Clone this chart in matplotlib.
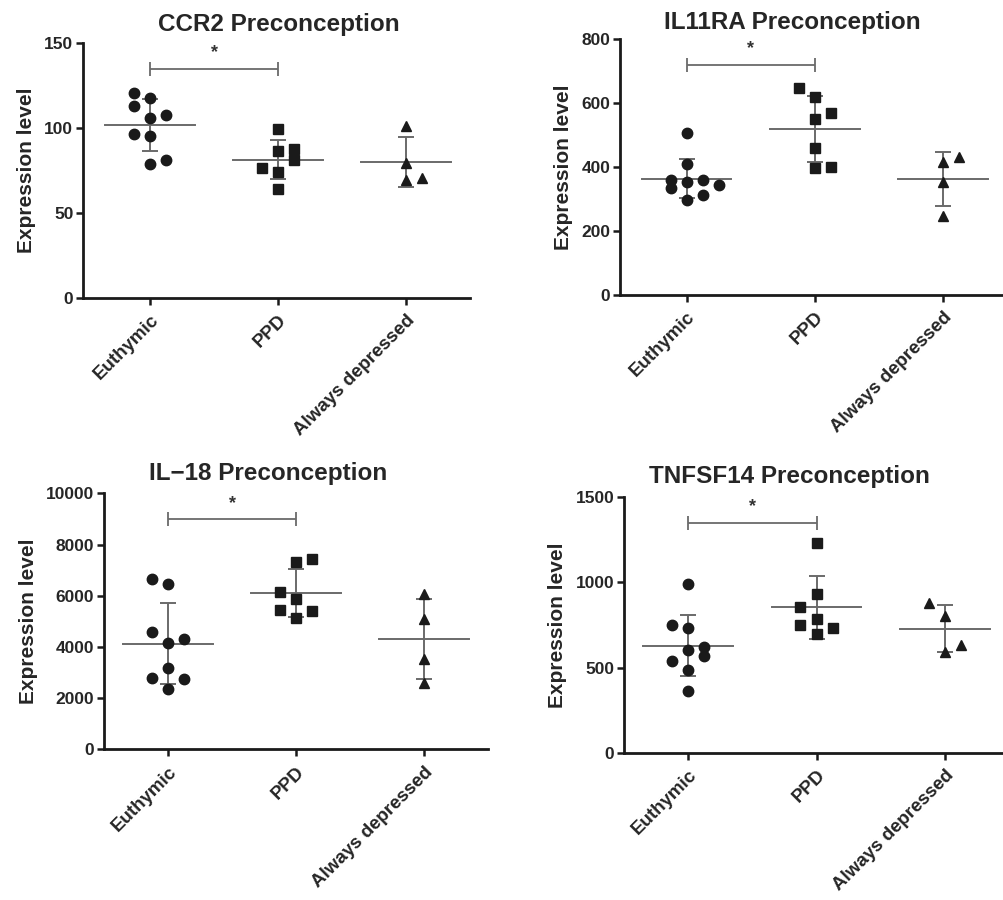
import numpy as np
import matplotlib
matplotlib.use("Agg")
import matplotlib.pyplot as plt

plt.rcParams['font.family'] = ['Liberation Sans', 'DejaVu Sans']
plt.rcParams['font.weight'] = 'bold'

groups = ["Euthymic", "PPD", "Always depressed"]
titles = ["CCR2 Preconception", "IL11RA Preconception",
          "IL\u221218 Preconception", "TNFSF14 Preconception"]

# values
ccr2_euthymic = [120.6, 117.6, 112.7, 106.0, 107.5, 96.3, 95.1, 78.6, 81.0]
ccr2_ppd = [99.6, 86.5, 87.8, 81.0, 76.5, 74.1, 64.3]
ccr2_always = [101.0, 79.4, 69.2, 70.8]

il11ra_euthymic = [505.9, 409.9, 359.8, 333.8, 354.6, 359.8, 344.2, 297.3, 312.9]
il11ra_ppd = [646.7, 618.5, 570.5, 549.7, 458.9, 396.3, 399.5]
il11ra_always = [415.0, 432.9, 354.6, 247.2]

il18_euthymic = [6640, 6458, 4596, 4167, 4310, 3164, 2773, 2734, 2357]
il18_ppd = [7331, 7422, 6133, 5872, 5443, 5417, 5117]
il18_always = [6068, 5078, 3516, 2578]

tnfsf14_euthymic = [988.9, 750.0, 730.4, 603.1, 618.8, 567.9, 538.5, 485.6, 362.3]
tnfsf14_ppd = [1233.7, 932.1, 853.8, 785.2, 750.0, 730.4, 697.1]
tnfsf14_always = [881.2, 804.8, 632.5, 593.3]

# scatter column slots (jitter) per point
ccr2_slots = [[-1, 0, -1, 0, 1, -1, 0, 0, 1], [0, 0, 1, 1, -1, 0, 0], [0, 0, 0, 1]]
il11ra_slots = [[0, 0, -1, -1, 0, 1, 2, 0, 1], [-1, 0, 1, 0, 0, 0, 1], [0, 1, 0, 0]]
il18_slots = [[-1, 0, -1, 0, 1, 0, -1, 1, 0], [0, 1, -1, 0, -1, 1, 0], [0, 0, 0, 0]]
tnfsf14_slots = [[0, -1, 0, 0, 1, 1, -1, 0, 0], [0, 0, -1, 0, -1, 1, 0], [-1, 0, 1, 0]]

yticks_list = [[0, 50, 100, 150], [0, 200, 400, 600, 800],
               [0, 2000, 4000, 6000, 8000, 10000], [0, 500, 1000, 1500]]

panels_data = [
    [ccr2_euthymic, ccr2_ppd, ccr2_always],
    [il11ra_euthymic, il11ra_ppd, il11ra_always],
    [il18_euthymic, il18_ppd, il18_always],
    [tnfsf14_euthymic, tnfsf14_ppd, tnfsf14_always],
]
panels_slots = [ccr2_slots, il11ra_slots, il18_slots, tnfsf14_slots]

# layout (figure fractions)
rects = [
    [0.0827, 0.6689, 0.3855, 0.2833],
    [0.6175, 0.6722, 0.3855, 0.2841],
    [0.1036, 0.1674, 0.3825, 0.2844],
    [0.6215, 0.1637, 0.3835, 0.2838],
]
xmins = [-0.523, -0.52, -0.5, -0.5]
title_pos = [(279, 30.7), (792, 29.3), (268, 480), (789, 483.3)]

W, H = 1004, 900
fig = plt.figure(figsize=(W / 100, H / 100), dpi=100)

markers = ['o', 's', '^']
msizes = [7.5, 7.0, 7.5]
gray = '#6a6a6a'
ink = '#1a1a1a'
txt = '#262626'
slot_w = 0.125

for k in range(4):
    ax = fig.add_axes(rects[k])
    data = panels_data[k]
    slots = panels_slots[k]
    for g in range(3):
        vals = np.array(data[g], dtype=float)
        xs = g + slot_w * np.array(slots[g])
        ax.plot(xs, vals, linestyle='none', marker=markers[g], ms=msizes[g],
                color=ink, mec=ink, zorder=3)
        m = vals.mean()
        sd = vals.std(ddof=1)
        ax.plot([g - 0.35, g + 0.35], [m, m], color=gray, lw=1.4, zorder=2)
        ax.errorbar([g], [m], yerr=[sd], fmt='none', ecolor=gray, elinewidth=1.4,
                    capsize=6, capthick=1.4, zorder=2)
    ymax = yticks_list[k][-1]
    # significance bracket Euthymic vs PPD
    by = 0.9 * ymax
    ax.errorbar([0.5], [by], xerr=[0.5], fmt='none', ecolor=gray, elinewidth=1.3,
                capsize=5, capthick=1.3, zorder=2)
    ax.text(0.5, 0.962 * ymax, '*', ha='center', va='center', fontsize=13,
            color='#333333', fontweight='bold')

    ax.set_xlim(xmins[k], 2.5)
    ax.set_ylim(0, ymax)
    ax.set_yticks(yticks_list[k])
    ax.set_yticklabels([str(t) for t in yticks_list[k]], fontsize=12.5,
                       fontweight='bold', color=txt)
    ax.set_xticks([0, 1, 2])
    ax.set_xticklabels(groups, rotation=45, ha='right', va='top',
                       rotation_mode='anchor', fontsize=13.5, fontweight='bold',
                       color=txt)
    ax.tick_params(axis='both', direction='out', length=5, width=1.8,
                   color='#1a1a1a', pad=2)
    ax.tick_params(axis='x', pad=5)
    for s in ['top', 'right']:
        ax.spines[s].set_visible(False)
    for s in ['left', 'bottom']:
        ax.spines[s].set_linewidth(2.0)
        ax.spines[s].set_color('#1a1a1a')
    ax.set_ylabel('Expression level', fontsize=15, fontweight='bold',
                  color=txt, labelpad=6)
    tx, ty = title_pos[k]
    fig.text(tx / W, 1 - ty / H, titles[k], ha='center', va='baseline',
             fontsize=17.5, fontweight='bold', color=txt)

fig.savefig('out.png', dpi=100, facecolor='white')
